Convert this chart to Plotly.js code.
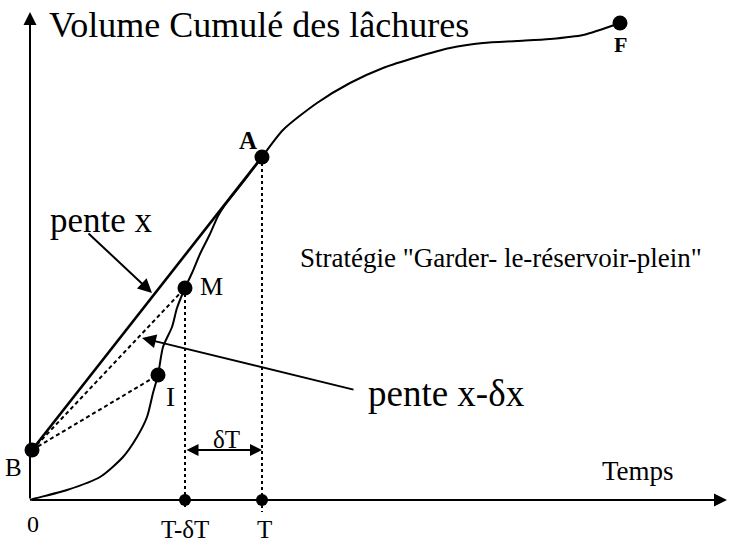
<!DOCTYPE html>
<html>
<head>
<meta charset="utf-8">
<script src="https://cdn.plot.ly/plotly-3.0.1.min.js"></script>
<style>html,body{margin:0;padding:0;background:#fff;}#chart{width:729px;height:546px;}</style>
</head>
<body>
<div id="chart"></div>
<script>
// Cumulative release curve (time, cumulative volume)
const curveT = [0, 3, 37, 70, 93, 107, 117, 123, 128, 133, 142, 147, 155, 162, 170, 180, 188, 195, 210, 220, 232, 253, 287, 320, 353, 387, 420, 453, 487, 520, 553, 590];
const curveV = [0, 1, 10, 23, 43, 63, 83, 107, 125, 153, 173, 192, 212, 227, 246, 266, 284, 295, 314, 327, 343, 370, 397, 417, 432, 443, 452, 457, 459, 461, 465, 477];

// Named points
const pointNames = ["B", "I", "M", "A", "F"];
const pointT = [2, 128, 155, 232, 590];
const pointV = [50, 125, 212, 343, 477];

// Time marks on the axis
const tickNames = ["T-δT", "T"];
const tickT = [155, 232];

const serif = "Liberation Serif, Times New Roman, serif";
const B = {t: pointT[0], v: pointV[0]}, I = {t: pointT[1], v: pointV[1]},
      M = {t: pointT[2], v: pointV[2]}, A = {t: pointT[3], v: pointV[3]}, F = {t: pointT[4], v: pointV[4]};

const traces = [
  {x: curveT, y: curveV, mode: "lines", line: {color: "#000", width: 2, shape: "spline", smoothing: 0.7}, hoverinfo: "skip"},
  {x: [B.t, A.t], y: [B.v, A.v], mode: "lines", line: {color: "#000", width: 2.6}},
  {x: [B.t, M.t], y: [B.v, M.v], mode: "lines", line: {color: "#000", width: 2, dash: "4px,3px"}},
  {x: [B.t, I.t], y: [B.v, I.v], mode: "lines", line: {color: "#000", width: 2, dash: "4px,3px"}},
  {x: [tickT[0], tickT[0]], y: [M.v, -10], mode: "lines", line: {color: "#000", width: 2, dash: "3px,3px"}},
  {x: [tickT[1], tickT[1]], y: [A.v, -12], mode: "lines", line: {color: "#000", width: 2, dash: "3px,3px"}},
  {x: pointT, y: pointV, mode: "markers", marker: {color: "#000", size: 15}},
  {x: tickT, y: [0, 0], mode: "markers", marker: {color: "#000", size: 12}}
];

function arrow(hx, hy, tx, ty, extra) {
  return Object.assign({x: hx, y: hy, ax: tx, ay: ty, xref: "x", yref: "y", axref: "x", ayref: "y",
    text: "", showarrow: true, arrowhead: 2, arrowsize: 1.3, arrowwidth: 2, arrowcolor: "#000", standoff: 0, startstandoff: 0}, extra || {});
}
function label(x, y, text, size, extra) {
  return Object.assign({x: x, y: y, xref: "x", yref: "y", text: text, showarrow: false,
    font: {family: serif, size: size, color: "#000"}}, extra || {});
}

const annotations = [
  arrow(0, 488, 0, 0),
  arrow(697, 0, 0, 0),
  arrow(122, 207, 57, 268, {arrowsize: 1.4}),
  arrow(112, 162, 325, 110, {arrowsize: 1.4}),
  arrow(A.t, 50, M.t, 50, {arrowside: "end+start", arrowsize: 1.2}),
  label(17, 475, "Volume Cumulé des lâchures", 36, {xanchor: "left"}),
  label(18, 280, "pente x", 35, {xanchor: "left"}),
  label(268, 242, "Stratégie \"Garder- le-réservoir-plein\"", 27, {xanchor: "left"}),
  label(336, 107, "pente x-δx", 37, {xanchor: "left"}),
  label(570, 29, "Temps", 27, {xanchor: "left"}),
  label(3, -24, "0", 24),
  label(tickT[0], -29, tickNames[0], 25),
  label(tickT[1] + 2, -29, tickNames[1], 25),
  label(-17, 33, pointNames[0], 25),
  label(140, 103, pointNames[1], 27),
  label(181, 214, pointNames[2], 26),
  label(218, 360, pointNames[3], 25, {font: {family: serif, size: 25, color: "#000", weight: "bold"}}),
  label(590, 456, pointNames[4], 22, {font: {family: serif, size: 22, color: "#000", weight: "bold"}}),
  label(196, 61, "δT", 25)
];

const layout = {
  width: 729, height: 546,
  margin: {l: 0, r: 0, t: 0, b: 0},
  paper_bgcolor: "#fff", plot_bgcolor: "#fff",
  showlegend: false,
  xaxis: {range: [-30, 699], visible: false, fixedrange: true},
  yaxis: {range: [-46, 500], visible: false, fixedrange: true},
  annotations: annotations
};

Plotly.newPlot("chart", traces, layout, {displayModeBar: false, staticPlot: true});
</script>
</body>
</html>
